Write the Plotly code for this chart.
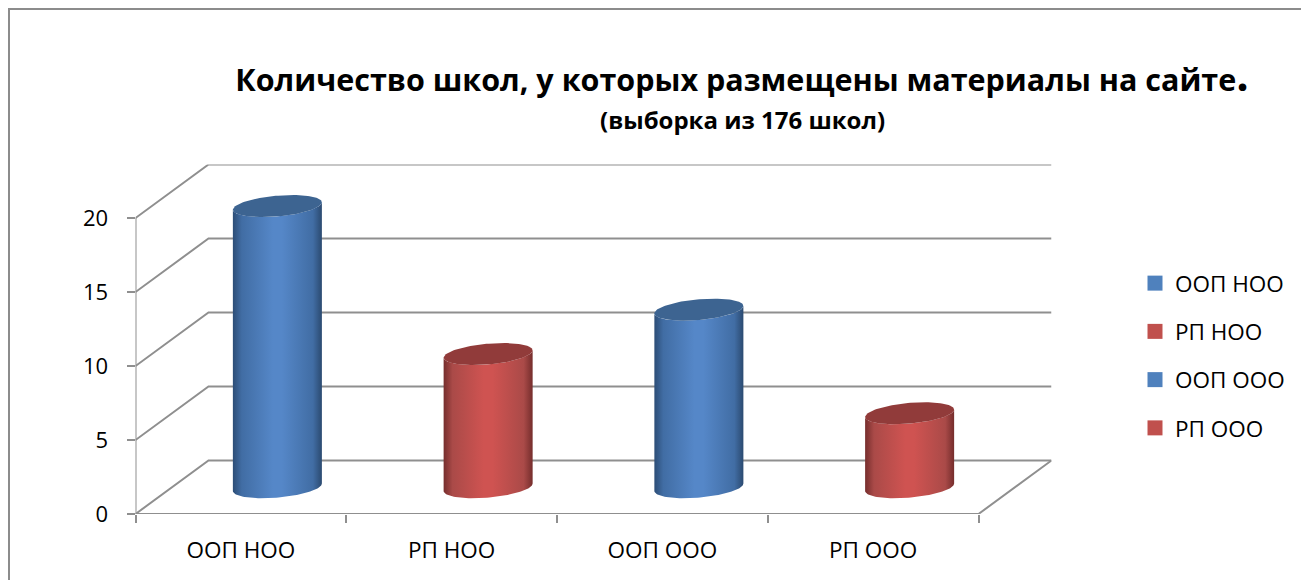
import numpy as np
import plotly.graph_objects as go

# ---- data ----
categories = ["ООП НОО", "РП НОО", "ООП ООО", "РП ООО"]
values = [19, 9, 12, 5]
y_ticks = [0, 5, 10, 15, 20]
title_text = "Количество школ, у которых размещены материалы на сайте"
subtitle_text = "(выборка из 176 школ)"

# ---- style ----
FONT = "Open Sans"
W, H = 1301, 580
L, R, T, B = 135.5, 1051.5, 164.5, 514.0   # plot area in pixels
GRID = "#8f8f8f"
BODY = {
    "blue": ["#2c4d76", "#416da4", "#5587c8", "#5587c8", "#416da4", "#2b4a70"],
    "red": ["#762e2d", "#aa4a48", "#cf5351", "#cf5351", "#aa4a48", "#752d2c"],
}
CAP = {"blue": "#3d6491", "red": "#913b3a"}
LEGEND = {"blue": "#4f81bd", "red": "#c0504d"}
series_colors = ["blue", "red", "blue", "red"]

n = len(categories)
depth_x_px, depth_y_px = 73.0, 53.5
px_x = (R - L - depth_x_px) / n                    # px per category
px_y = (B - T - depth_y_px) / max(y_ticks)         # px per value unit
dx = depth_x_px / px_x
dy = depth_y_px / px_y
x_max, y_max = n + dx, max(y_ticks) + dy

fig = go.Figure()

# ---- walls, floor and gridlines ----
gx, gy = [], []
def seg(xs, ys):
    gx.extend(list(xs) + [None])
    gy.extend(list(ys) + [None])

for v in y_ticks:
    seg([0, dx, x_max], [v, v + dy, v + dy])
seg([0, 0], [0, max(y_ticks)])
seg([0, n, x_max], [0, 0, dy])
fig.add_trace(go.Scatter(x=gx, y=gy, mode="lines", cliponaxis=False, showlegend=False,
                         line=dict(color=GRID, width=2), hoverinfo="skip"))

# ---- cylinders ----
half_w_px = 41.9
a = half_w_px / px_x
cap_dx = 15.0 / px_x
cap_dy = 11.0 / px_y
t0 = np.arctan2(cap_dx, a)

def ring(cx, cy, t):
    return cx + a * np.cos(t) + cap_dx * np.sin(t), cy + cap_dy * np.sin(t)

for i, (v, c) in enumerate(zip(values, series_colors)):
    cx = i + 0.5 + dx / 2
    base = dy / 2
    top = v + dy / 2
    t_low = np.linspace(t0, t0 - np.pi, 60)
    xb, yb = ring(cx, base, t_low)
    xt, yt = ring(cx, top, t_low[::-1])
    stops = [0, 0.1, 0.45, 0.55, 0.9, 1]
    fig.add_trace(go.Scatter(
        x=np.r_[xb, xt], y=np.r_[yb, yt], mode="lines", fill="toself",
        line=dict(width=0), showlegend=False, cliponaxis=False,
        fillgradient=dict(type="horizontal",
                          colorscale=[[s, col] for s, col in zip(stops, BODY[c])]),
        name=categories[i], hoverinfo="name"))
    xc, yc = ring(cx, top, np.linspace(0, 2 * np.pi, 120))
    fig.add_trace(go.Scatter(x=xc, y=yc, mode="lines", fill="toself", fillcolor=CAP[c],
                             line=dict(width=0), showlegend=False, cliponaxis=False,
                             hoverinfo="skip"))

# ---- legend entries ----
for i, (name, c) in enumerate(zip(categories, series_colors)):
    fig.add_trace(go.Scatter(x=[None], y=[None], mode="markers", name=name,
                             legendgroup=f"g{i}",
                             marker=dict(symbol="square", size=15, color=LEGEND[c])))

to_px = lambda x: x / W
to_py = lambda y: 1 - y / H
fig.add_shape(type="path", xref="paper", yref="paper", layer="below",
              path=f"M {to_px(9)} {to_py(H + 5)} L {to_px(9)} {to_py(9)} L {to_px(W + 5)} {to_py(9)}",
              line=dict(color="#8c8c8c", width=2))

fig.add_annotation(xref="paper", yref="paper", x=to_px(742), y=to_py(120), showarrow=False,
                   xanchor="center", yanchor="middle",
                   text=f"<b>{subtitle_text}</b>", font=dict(family=FONT, size=24, color="black"))

fig.update_layout(
    width=W, height=H, autosize=False,
    margin=dict(l=0, r=0, t=0, b=0, pad=0),
    paper_bgcolor="white", plot_bgcolor="rgba(0,0,0,0)",
    font=dict(family=FONT, color="black", size=22),
    title=dict(text=f"<b>{title_text}<span style='font-size:44px'>.</span></b>",
               font=dict(family=FONT, size=30.5, color="black"),
               x=742 / W, xanchor="center", y=1 - 80 / H, yanchor="middle"),
    xaxis=dict(domain=[L / W, R / W], range=[0, x_max], showgrid=False, showline=False, zeroline=False,
               tickvals=[i + 0.5 for i in range(n)], ticktext=categories,
               ticks="outside", ticklen=8, tickcolor="rgba(0,0,0,0)", ticklabelstandoff=8,
               minor=dict(tickvals=list(range(n + 1)), ticks="outside", ticklen=8,
                          tickwidth=2, tickcolor=GRID),
               tickfont=dict(family=FONT, size=22.5), automargin=False),
    yaxis=dict(domain=[1 - B / H, 1 - T / H], range=[0, y_max], showgrid=False, showline=False, zeroline=False,
               tickvals=y_ticks, ticks="outside", ticklen=8, tickwidth=2, tickcolor=GRID,
               ticklabelstandoff=14, tickfont=dict(family=FONT, size=22), automargin=False),
    legend=dict(x=to_px(1135), xanchor="left", y=to_py(262), yanchor="top",
                font=dict(family=FONT, size=22.5), tracegroupgap=16, itemsizing="trace",
                bgcolor="rgba(0,0,0,0)"),
    showlegend=True,
)

fig.write_html("out.html", config={"displayModeBar": False},
               post_script="document.body.style.margin='0';document.body.style.overflow='hidden';")
